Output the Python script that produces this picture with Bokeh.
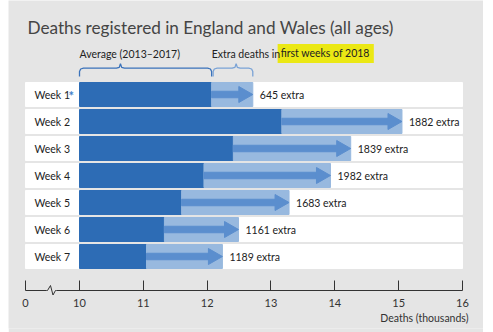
from bokeh.plotting import figure
from bokeh.models import Range1d, FixedTicker, Label
from bokeh.core.properties import value
from bokeh.embed import file_html
from bokeh.resources import INLINE

# Weekly deaths, England and Wales (thousands)
weeks = ["Week 1", "Week 2", "Week 3", "Week 4", "Week 5", "Week 6", "Week 7"]
average_2013_2017 = [12.07, 13.17, 12.41, 11.95, 11.60, 11.33, 11.05]
extra_2018 = [645, 1882, 1839, 1982, 1683, 1161, 1189]
tick_values = [0, 10, 11, 12, 13, 14, 15, 16]

total_2018 = [a + e / 1000 for a, e in zip(average_2013_2017, extra_2018)]
rows = list(range(len(weeks)))

# broken x axis: bars start at 10k, the "0" tick sits just left of the break
BAR_BASE = 10
ZERO_POS = 9.154
AXIS_END = 16

PX = 1 / 63.83      # x units per pixel
PY = 1 / 27         # row units per pixel
ROW_H = 24 * PY

BG = "#e5e5e5"
DARK = "#2d6cb5"
LIGHT = "#98b9df"
ARROW = "#5b8ece"
TEXT = "#222222"
FONT = "Lato"

FRAME_H = 328
p = figure(
    width=475, height=332,
    x_range=Range1d(BAR_BASE - 71 * PX, BAR_BASE + 404 * PX),
    y_range=Range1d((FRAME_H - 94) * PY, -94 * PY),
    output_backend="svg", toolbar_location=None,
    y_axis_location=None,
    min_border_left=0, min_border_right=0, min_border_top=0,
    min_border_bottom=332 - FRAME_H,
    background_fill_color=BG, border_fill_color=BG, outline_line_color=None,
    margin=(0, 10, 0, 8),
)
p.xgrid.visible = False
p.ygrid.visible = False

# white row strips (label cell + plotting lane)
p.hbar(y=rows, left=ZERO_POS, right=AXIS_END, height=ROW_H, color="white")
# average bars and extra-deaths bars
p.hbar(y=rows, left=BAR_BASE, right=average_2013_2017, height=ROW_H, color=DARK)
p.hbar(y=rows, left=average_2013_2017, right=total_2018, height=ROW_H, color=LIGHT)

# arrows across the extra section
head_len = 14 * PX
p.hbar(y=rows, left=average_2013_2017, right=[t - head_len for t in total_2018],
       height=6.5 * PY, color=ARROW)
p.patches(
    xs=[[t - head_len, t, t - head_len] for t in total_2018],
    ys=[[r - 8 * PY, r, r + 8 * PY] for r in rows],
    color=ARROW,
)

# row labels
p.text(x=[ZERO_POS] * len(rows), y=rows, text=weeks, x_offset=9,
       text_baseline="middle", text_font=value(FONT), text_font_size="10.5px",
       text_color=TEXT)
p.text(x=[ZERO_POS], y=[0], text=["*"], x_offset=43, y_offset=1,
       text_baseline="middle", text_font=value(FONT), text_font_size="13px",
       text_font_style="bold", text_color="#3f7fca")

# value labels
p.text(x=total_2018, y=rows, text=[f"{e} extra" for e in extra_2018], x_offset=7,
       text_baseline="middle", text_font=value(FONT), text_font_size="10.5px",
       text_color=TEXT)

# braces over the first row
def brace(x0, x1, peak_frac, color):
    y_line = (67.7 - 94) * PY
    y_end = (76 - 94) * PY
    y_peak = (63.3 - 94) * PY
    pk = x0 + (x1 - x0) * peak_frac
    r = 4 * PX
    xs = [x0, x0, x0 + r * 0.3, x0 + r, pk - r, pk - r * 0.3, pk, pk + r * 0.3, pk + r,
          x1 - r, x1 - r * 0.3, x1, x1]
    ys = [y_end, y_line + 3.3 * PY, y_line + 0.8 * PY, y_line, y_line, y_line - 0.8 * PY,
          y_peak, y_line - 0.8 * PY, y_line, y_line, y_line + 0.8 * PY, y_line + 3.3 * PY, y_end]
    p.line(xs, ys, line_color=color, line_width=1.3)

brace(BAR_BASE, average_2013_2017[0], 0.31, "#3a72ba")
brace(average_2013_2017[0] + 1.5 * PX, total_2018[0], 0.58, "#7aa3d6")

ann_y = (53 - 94) * PY
p.add_layout(Label(x=BAR_BASE, y=ann_y, text="Average (2013\u20132017)",
                   text_baseline="middle", text_font=FONT, text_font_size="10.5px",
                   text_color=TEXT))
# highlighter box first, so the preceding words sit on top of it
p.add_layout(Label(x=average_2013_2017[0], y=ann_y, x_offset=66, text="first weeks of 2018",
                   text_baseline="middle", text_font=FONT, text_font_size="10.5px",
                   text_color=TEXT, background_fill_color="#ebe814",
                   padding=(3, 4, 3, 4)))
p.add_layout(Label(x=average_2013_2017[0], y=ann_y, text="Extra deaths in",
                   text_baseline="middle", text_font=FONT, text_font_size="10.5px",
                   text_color=TEXT))

# title
p.add_layout(Label(x=ZERO_POS, y=(26.5 - 94) * PY, x_offset=2,
                   text="Deaths registered in England and Wales (all ages)",
                   text_baseline="middle", text_font=FONT, text_font_size="17.2px",
                   text_color="#444444"))

# x axis with a break between 0 and 10
axis_y = (290 - 94) * PY
ax = p.xaxis[0]
tick_pos = [ZERO_POS if v == 0 else float(v) for v in tick_values]
ax.ticker = FixedTicker(ticks=tick_pos)
ax.major_label_overrides = {pos: str(v) for pos, v in zip(tick_pos, tick_values)}
ax.fixed_location = axis_y
ax.bounds = (ZERO_POS, AXIS_END)
ax.major_tick_in = 10
ax.major_tick_out = 0
ax.minor_tick_line_color = None
ax.axis_line_color = "#333333"
ax.major_tick_line_color = "#333333"
ax.major_label_standoff = 8
ax.major_label_text_font = FONT
ax.major_label_text_font_size = "11px"
ax.major_label_text_color = "#333333"

# zigzag break marker drawn over the axis line
zx = [ZERO_POS + d * PX for d in (21, 22, 25, 27.5, 30, 31)]
p.line([zx[0], zx[-1]], [axis_y, axis_y], line_color=BG, line_width=3, level="overlay")
p.line(zx[1:5], [axis_y, axis_y - 5 * PY, axis_y + 4.5 * PY, axis_y],
       line_color="#333333", line_width=1, level="overlay")
p.line([zx[0], zx[1]], [axis_y, axis_y], line_color="#333333", line_width=1, level="overlay")
p.line([zx[4], zx[5]], [axis_y, axis_y], line_color="#333333", line_width=1, level="overlay")

# axis title, right-aligned under the last tick
p.add_layout(Label(x=AXIS_END, y=(317 - 94) * PY, x_offset=6, text="Deaths (thousands)",
                   text_align="right", text_baseline="middle", text_font=FONT,
                   text_font_size="10.5px", text_color="#333333"))

open("out.html", "w").write(file_html(p, INLINE))
